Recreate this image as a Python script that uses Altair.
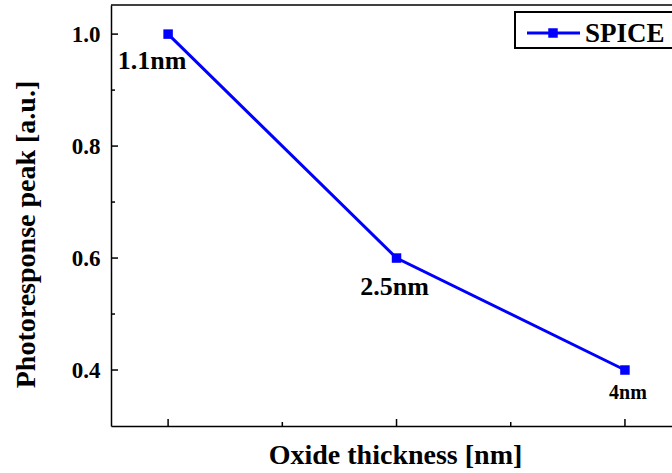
import altair as alt
import pandas as pd

# Simulated photoresponse peak vs. gate-oxide thickness
thickness_labels = ["1.1nm", "2.5nm", "4nm"]
position = [0, 1, 2]
peak = [1.0, 0.6, 0.4]

# axis tick positions (inward ticks drawn as rules)
y_major = [0.4, 0.6, 0.8, 1.0]
y_minor = [0.5, 0.7, 0.9]
x_major = [0, 1, 2]
x_minor = [0.5, 1.5]

series_name = ["SPICE"]

FONT = "Liberation Serif"
BLUE = "#0000FF"
W, H = 561, 421

df = pd.DataFrame({"pos": position, "peak": peak, "label": thickness_labels})

xs = alt.Scale(domain=[-0.25, 2.206], nice=False, zero=False)
ys = alt.Scale(domain=[0.3, 1.052], nice=False, zero=False)

x_axis = alt.Axis(
    labels=False, ticks=False, tickSize=0, grid=False,
    domainColor="black", domainWidth=1.5,
    title="Oxide thickness [nm]", titleFont=FONT, titleFontSize=28,
    titleFontWeight="bold", titleColor="black",
    titleX=284, titleY=29, titleBaseline="middle",
)
y_axis = alt.Axis(
    values=y_major, format=".1f", ticks=False, tickSize=0, grid=False,
    domainColor="black", domainWidth=1.5,
    labelFont=FONT, labelFontSize=23, labelFontWeight="bold",
    labelColor="black", labelPadding=11,
    title="Photoresponse peak [a.u.]", titleFont=FONT, titleFontSize=28,
    titleFontWeight="bold", titleColor="black",
    titleX=-85, titleY=229, titleBaseline="middle",
)

base = alt.Chart(df)

line = base.mark_line(color=BLUE, strokeWidth=3).encode(
    x=alt.X("pos:Q", scale=xs, axis=x_axis),
    y=alt.Y("peak:Q", scale=ys, axis=y_axis),
)
points = base.mark_point(shape="square", filled=True, size=90, color=BLUE, opacity=1).encode(
    x=alt.X("pos:Q", scale=xs),
    y=alt.Y("peak:Q", scale=ys),
)

# point annotations
label_style = {
    "1.1nm": dict(dx=-16, dy=27, fontSize=26),
    "2.5nm": dict(dx=-2, dy=29, fontSize=26),
    "4nm": dict(dx=3, dy=23, fontSize=20),
}
labels = [
    base.transform_filter(alt.datum.label == name).mark_text(
        font=FONT, fontWeight="bold", color="black", baseline="middle",
        align="center", **style
    ).encode(
        x=alt.X("pos:Q", scale=xs),
        y=alt.Y("peak:Q", scale=ys),
        text="label:N",
    )
    for name, style in label_style.items()
]

# inward ticks
def y_ticks(values, length):
    return alt.Chart(pd.DataFrame({"v": values})).mark_rule(
        color="black", strokeWidth=1.5
    ).encode(
        y=alt.Y("v:Q", scale=ys),
        x=alt.value(0), x2=alt.value(length),
    )

def x_ticks(values, length):
    return alt.Chart(pd.DataFrame({"v": values})).mark_rule(
        color="black", strokeWidth=1.5
    ).encode(
        x=alt.X("v:Q", scale=xs),
        y=alt.value(H), y2=alt.value(H - length),
    )

ticks = [y_ticks(y_major, 7), y_ticks(y_minor, 4), x_ticks(x_major, 7), x_ticks(x_minor, 4)]

# top frame line
top = alt.Chart(pd.DataFrame({"v": [0]})).mark_rule(color="black", strokeWidth=1.5).encode(
    x=alt.value(0), x2=alt.value(W + 10), y=alt.value(0)
)

# legend box
leg_df = pd.DataFrame({"name": series_name})
leg = alt.Chart(leg_df)
leg_box = leg.mark_rect(fill="white", stroke="black", strokeWidth=2).encode(
    x=alt.value(404), x2=alt.value(W + 20), y=alt.value(7), y2=alt.value(43)
)
leg_line = leg.mark_rule(color=BLUE, strokeWidth=3).encode(
    x=alt.value(416), x2=alt.value(469), y=alt.value(28)
)
leg_pt = leg.mark_point(shape="square", filled=True, size=90, color=BLUE, opacity=1).encode(
    x=alt.value(442), y=alt.value(28)
)
leg_text = leg.mark_text(
    font=FONT, fontWeight="bold", fontSize=27, color="black",
    align="left", baseline="middle", dx=0
).encode(x=alt.value(474), y=alt.value(29), text="name:N")

chart = alt.layer(
    line, points, *labels, *ticks, top, leg_box, leg_line, leg_pt, leg_text
).properties(
    width=W, height=H,
    autosize=alt.AutoSizeParams(type="none"),
    padding={"left": 111, "top": 5, "right": 0, "bottom": 47},
    background="white",
).configure_view(stroke=None)

chart.save("out.html", embed_options={"renderer": "svg", "actions": False})
